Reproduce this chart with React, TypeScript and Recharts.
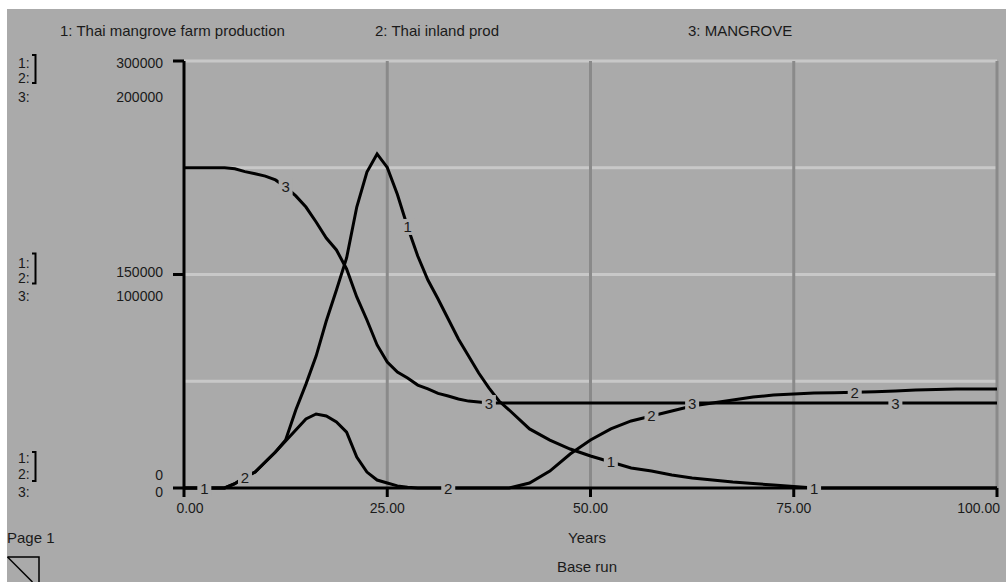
import React from 'react';
import { LineChart, Line, XAxis, YAxis, ReferenceLine } from 'recharts';

const years = [0, 1.25, 2.5, 3.75, 5, 6.25, 7.5, 8.75, 10, 11.25, 12.5, 13.75, 15, 16.25, 17.5, 18.75, 20, 21.25, 22.5, 23.75, 25, 26.25, 27.5, 28.75, 30, 31.25, 32.5, 33.75, 35, 36.25, 37.5, 38.75, 40, 42.5, 45, 47.5, 50, 52.5, 55, 57.5, 60, 62.5, 65, 67.5, 70, 72.5, 75, 77.5, 80, 82.5, 85, 87.5, 90, 92.5, 95, 97.5, 100];

const thaiMangroveFarmProduction = [0, 0, 0, 0, 0, 3000, 7700, 11200, 18300, 25300, 33700, 54800, 73000, 92700, 117300, 139100, 161600, 197400, 222000, 234700, 225200, 206200, 183400, 163000, 146100, 132800, 118700, 104700, 92700, 80800, 70300, 61100, 54800, 41500, 33700, 27400, 22500, 18300, 14100, 11900, 9100, 7000, 5600, 4200, 3200, 2100, 1000, 0, 0, 0, 0, 0, 0, 0, 0, 0, 0];

const thaiInlandProd = [0, 0, 0, 0, 0, 3000, 7700, 11200, 18300, 25300, 33000, 40800, 48500, 52000, 50600, 46400, 39300, 21800, 11200, 5600, 3500, 1500, 500, 0, 0, 0, 0, 0, 0, 0, 0, 0, 0, 3500, 11900, 23900, 33700, 41500, 47100, 50600, 54100, 57600, 59700, 61800, 63900, 65300, 66000, 66700, 67000, 67200, 67700, 68200, 68900, 69200, 69600, 69600, 69600];

const mangrove = [150000, 150000, 150000, 150000, 150000, 149500, 148200, 147200, 146100, 144300, 141000, 136800, 131600, 124600, 117100, 111500, 102600, 89500, 78700, 67000, 59000, 54300, 51500, 48200, 46400, 44300, 43100, 41700, 40700, 40300, 39800, 39800, 39800, 39800, 39800, 39800, 39800, 39800, 39800, 39800, 39800, 39800, 39800, 39800, 39800, 39800, 39800, 39800, 39800, 39800, 39800, 39800, 39800, 39800, 39800, 39800, 39800];

const seriesNames = ['1: Thai mangrove farm production', '2: Thai inland prod', '3: MANGROVE'];
const xTicks = [0, 25, 50, 75, 100];
const yTicks12 = [0, 150000, 300000];
const yTicks3 = [0, 100000, 200000];
const hGrid = [75000, 150000, 225000, 300000];
const vGrid = [25, 50, 75, 100];
const labelYears1 = [2.5, 27.5, 52.5, 77.5];
const labelYears2 = [7.5, 32.5, 57.5, 82.5];
const labelYears3 = [12.5, 37.5, 62.5, 87.5];

const data = years.map((year, i) => ({
  year,
  s1: thaiMangroveFarmProduction[i],
  s2: thaiInlandProd[i],
  s3: mangrove[i],
}));

const BG = '#aaaaaa';
const INK = '#1a1a1a';
const FONT = '"Liberation Sans", Arial, sans-serif';

// offsets for the left label blocks (per tick index: 0 bottom, 1 middle, 2 top)
const rows = [
  { l1: -30, l2: -14, l3: 4, v12: -13, v3: 4, b0: -36, b1: -7 },
  { l1: -12, l2: 3, l3: 21, v12: -3, v3: 21, b0: -21, b1: 9 },
  { l1: 2, l2: 17, l3: 36, v12: 2, v3: 36, b0: -6, b1: 22 },
];

const YTick = (props: any) => {
  const { y, payload } = props;
  const i = yTicks12.indexOf(payload.value);
  if (i < 0) return <g />;
  const r = rows[i];
  const t = { fontFamily: FONT, fontSize: 14, fill: INK, dominantBaseline: 'central' as const };
  return (
    <g>
      <text x={11} y={y + r.l1} {...t}>1:</text>
      <text x={11} y={y + r.l2} {...t}>2:</text>
      <text x={11} y={y + r.l3} {...t}>3:</text>
      <path d={`M25 ${y + r.b0} H28.5 V${y + r.b1} H25`} stroke="#000" strokeWidth={2} fill="none" />
      <text x={156} y={y + r.v12} textAnchor="end" {...t}>{String(yTicks12[i])}</text>
      <text x={156} y={y + r.v3} textAnchor="end" {...t}>{String(yTicks3[i])}</text>
    </g>
  );
};

const XTick = (props: any) => {
  const { x, y, payload } = props;
  const v = payload.value;
  let anchor: 'middle' | 'end' = 'middle';
  let dx = 0;
  if (v === 0) dx = 6;
  if (v === 100) { anchor = 'end'; dx = 3; }
  return (
    <text x={x + dx} y={y} dy={9} textAnchor={anchor} dominantBaseline="central" fontFamily={FONT} fontSize={14} fill={INK}>
      {v.toFixed(2)}
    </text>
  );
};

const makeLabelDot = (num: string, labelYears: number[]) => (props: any) => {
  const { cx, cy, payload, index } = props;
  if (!labelYears.includes(payload.year)) return <g key={`e${num}-${index}`} />;
  return (
    <g key={`l${num}-${index}`}>
      <rect x={cx - 7} y={cy - 8} width={14} height={16} fill={BG} />
      <text x={cx} y={cy} textAnchor="middle" dominantBaseline="central" fontFamily={FONT} fontSize={15} fill={INK}>{num}</text>
    </g>
  );
};

const dot1 = makeLabelDot('1', labelYears1);
const dot2 = makeLabelDot('2', labelYears2);
const dot3 = makeLabelDot('3', labelYears3);

const textStyle: React.CSSProperties = {
  position: 'absolute',
  fontFamily: FONT,
  fontSize: 15,
  lineHeight: '16px',
  color: INK,
  whiteSpace: 'nowrap',
};

export default function App() {
  return (
    <div style={{ position: 'absolute', left: 7, top: 9, width: 999, height: 573, background: BG, overflow: 'hidden' }}>
      <div style={{ ...textStyle, left: 53, top: 14 }}>{seriesNames[0]}</div>
      <div style={{ ...textStyle, left: 368, top: 14 }}>{seriesNames[1]}</div>
      <div style={{ ...textStyle, left: 681, top: 14 }}>{seriesNames[2]}</div>
      <div style={{ position: 'absolute', left: 0, top: 0 }}>
        <LineChart width={999} height={573} data={data} margin={{ top: 52, right: 9, left: 0, bottom: 64 }}>
          <XAxis
            dataKey="year"
            type="number"
            domain={[0, 100]}
            ticks={xTicks}
            axisLine={{ stroke: '#000', strokeWidth: 3 }}
            tickLine={{ stroke: '#000', strokeWidth: 3 }}
            tickSize={9}
            tickMargin={2}
            tick={<XTick />}
            height={30}
            interval={0}
          />
          <YAxis
            yAxisId="l"
            domain={[0, 300000]}
            ticks={yTicks12}
            width={177}
            axisLine={{ stroke: '#000', strokeWidth: 3 }}
            tickLine={{ stroke: '#000', strokeWidth: 3 }}
            tickSize={11}
            tick={<YTick />}
            interval={0}
          />
          <YAxis yAxisId="r" domain={[0, 200000]} hide />
          {hGrid.map((v) => (
            <ReferenceLine key={`h${v}`} yAxisId="l" y={v} stroke="#c8c8c8" strokeWidth={3} />
          ))}
          {vGrid.map((v) => (
            <ReferenceLine key={`v${v}`} yAxisId="l" x={v} stroke="#8a8a8a" strokeWidth={3} />
          ))}
          <Line yAxisId="l" type="linear" dataKey="s1" stroke="#000" strokeWidth={3} dot={false} activeDot={false} isAnimationActive={false} />
          <Line yAxisId="l" type="linear" dataKey="s2" stroke="#000" strokeWidth={3} dot={false} activeDot={false} isAnimationActive={false} />
          <Line yAxisId="r" type="linear" dataKey="s3" stroke="#000" strokeWidth={3} dot={false} activeDot={false} isAnimationActive={false} />
          <Line yAxisId="l" type="linear" dataKey="s1" stroke="none" dot={dot1} activeDot={false} isAnimationActive={false} />
          <Line yAxisId="l" type="linear" dataKey="s2" stroke="none" dot={dot2} activeDot={false} isAnimationActive={false} />
          <Line yAxisId="r" type="linear" dataKey="s3" stroke="none" dot={dot3} activeDot={false} isAnimationActive={false} />
        </LineChart>
      </div>
      <div style={{ ...textStyle, left: 0, top: 521 }}>Page 1</div>
      <div style={{ ...textStyle, left: 580, top: 521, transform: 'translateX(-50%)' }}>Years</div>
      <div style={{ ...textStyle, left: 580, top: 550, transform: 'translateX(-50%)' }}>Base run</div>
      <svg style={{ position: 'absolute', left: 0, top: 547 }} width={34} height={26}>
        <path d="M0.5 1 H32 V26" stroke="#000" strokeWidth={1.5} fill="none" />
        <path d="M0.5 1 L25.5 26" stroke="#000" strokeWidth={1.5} fill="none" />
      </svg>
    </div>
  );
}
